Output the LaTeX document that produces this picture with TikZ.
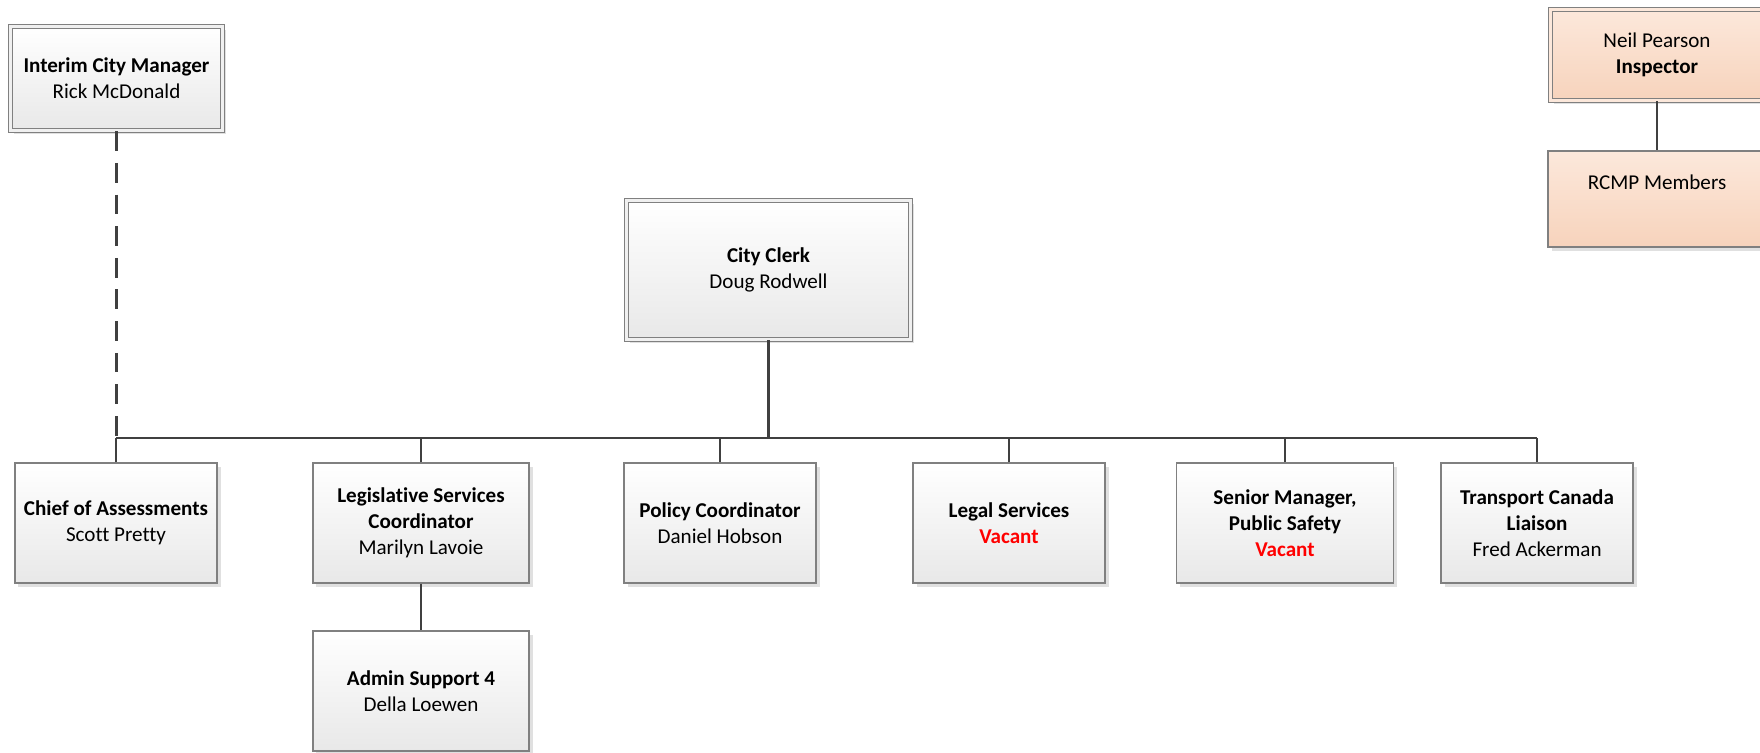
\documentclass[tikz,border=0pt]{standalone}
\usepackage{fontspec}
\setmainfont[Ligatures=NoCommon]{Carlito}
\usetikzlibrary{shadows}
\definecolor{boxline}{RGB}{128,128,128}
\definecolor{linkgray}{RGB}{64,64,64}
\definecolor{peachtop}{RGB}{252,232,219}
\definecolor{peachbot}{RGB}{247,211,188}
\definecolor{vacred}{RGB}{255,0,0}

\begin{document}
\begin{tikzpicture}[x=0.025cm, y=-0.025cm,
    box/.style={rectangle, draw=boxline, line width=0.8pt, top color=white, bottom color=black!9,
        align=center, inner sep=2pt, font=\fontsize{15}{18.5}\selectfont,
        drop shadow={shadow xshift=2.5pt, shadow yshift=-2.5pt, fill=black, opacity=0.12}},
    dbox/.style={box, double=black!6, double distance=2pt},
    rcmpbox/.style={box, top color=peachtop, bottom color=peachbot},
    link/.style={draw=linkgray, line width=1.5pt}]
    \useasboundingbox (0,0) rectangle (1760,752);

    \node[dbox, minimum width=5.31cm, minimum height=2.61cm] (mgr) at (116.5,78.5) {\textbf{Interim City Manager}\\Rick McDonald};
    \node[dbox, minimum width=7.11cm, minimum height=3.48cm] (clerk) at (768.5,270) {\textbf{City Clerk}\\Doug Rodwell};
    \node[rcmpbox, double=peachtop, double distance=2pt, minimum width=5.33cm, minimum height=2.28cm] (insp) at (1657,55) {Neil Pearson\\\textbf{Inspector}};
    \node[rcmpbox, text depth=24pt, minimum width=5.45cm, minimum height=2.4cm] (rcmp) at (1657,199) {RCMP Members};

    \node[box, minimum width=5.05cm, minimum height=3cm] (chief) at (116,523) {\textbf{Chief of Assessments}\\Scott Pretty};
    \node[box, minimum width=5.4cm, minimum height=3cm] (legis) at (421,523) {\textbf{Legislative Services}\\\textbf{Coordinator}\\Marilyn Lavoie};
    \node[box, minimum width=4.8cm, minimum height=3cm] (policy) at (720,523) {\textbf{Policy Coordinator}\\Daniel Hobson};
    \node[box, minimum width=4.8cm, minimum height=3cm] (legal) at (1009,523) {\textbf{Legal Services}\\\textbf{\color{vacred}Vacant}};
    \node[box, minimum width=5.43cm, minimum height=3cm] (senior) at (1285,523) {\textbf{Senior Manager,}\\\textbf{Public Safety}\\\textbf{\color{vacred}Vacant}};
    \node[box, minimum width=4.8cm, minimum height=3cm] (trans) at (1537,523) {\textbf{Transport Canada}\\\textbf{Liaison}\\Fred Ackerman};
    \node[box, minimum width=5.4cm, minimum height=3cm] (admin) at (421,691) {\textbf{Admin Support 4}\\Della Loewen};

    \coordinate (hub) at (768.5,438);

    %lines%
    \draw[link] (clerk.south) -- (hub);
    \draw[link] (chief.north |- hub) -- (trans.north |- hub);
    \foreach \n in {chief,legis,policy,legal,senior,trans}
        \draw[link] (\n.north) -- (\n.north |- hub);
    \draw[link, dash pattern=on 14pt off 8.5pt] (mgr.south) -- (mgr.south |- hub);
    \draw[link] (legis.south) -- (admin.north);
    \draw[link] (insp.south) -- (rcmp.north);
\end{tikzpicture}
\end{document}
